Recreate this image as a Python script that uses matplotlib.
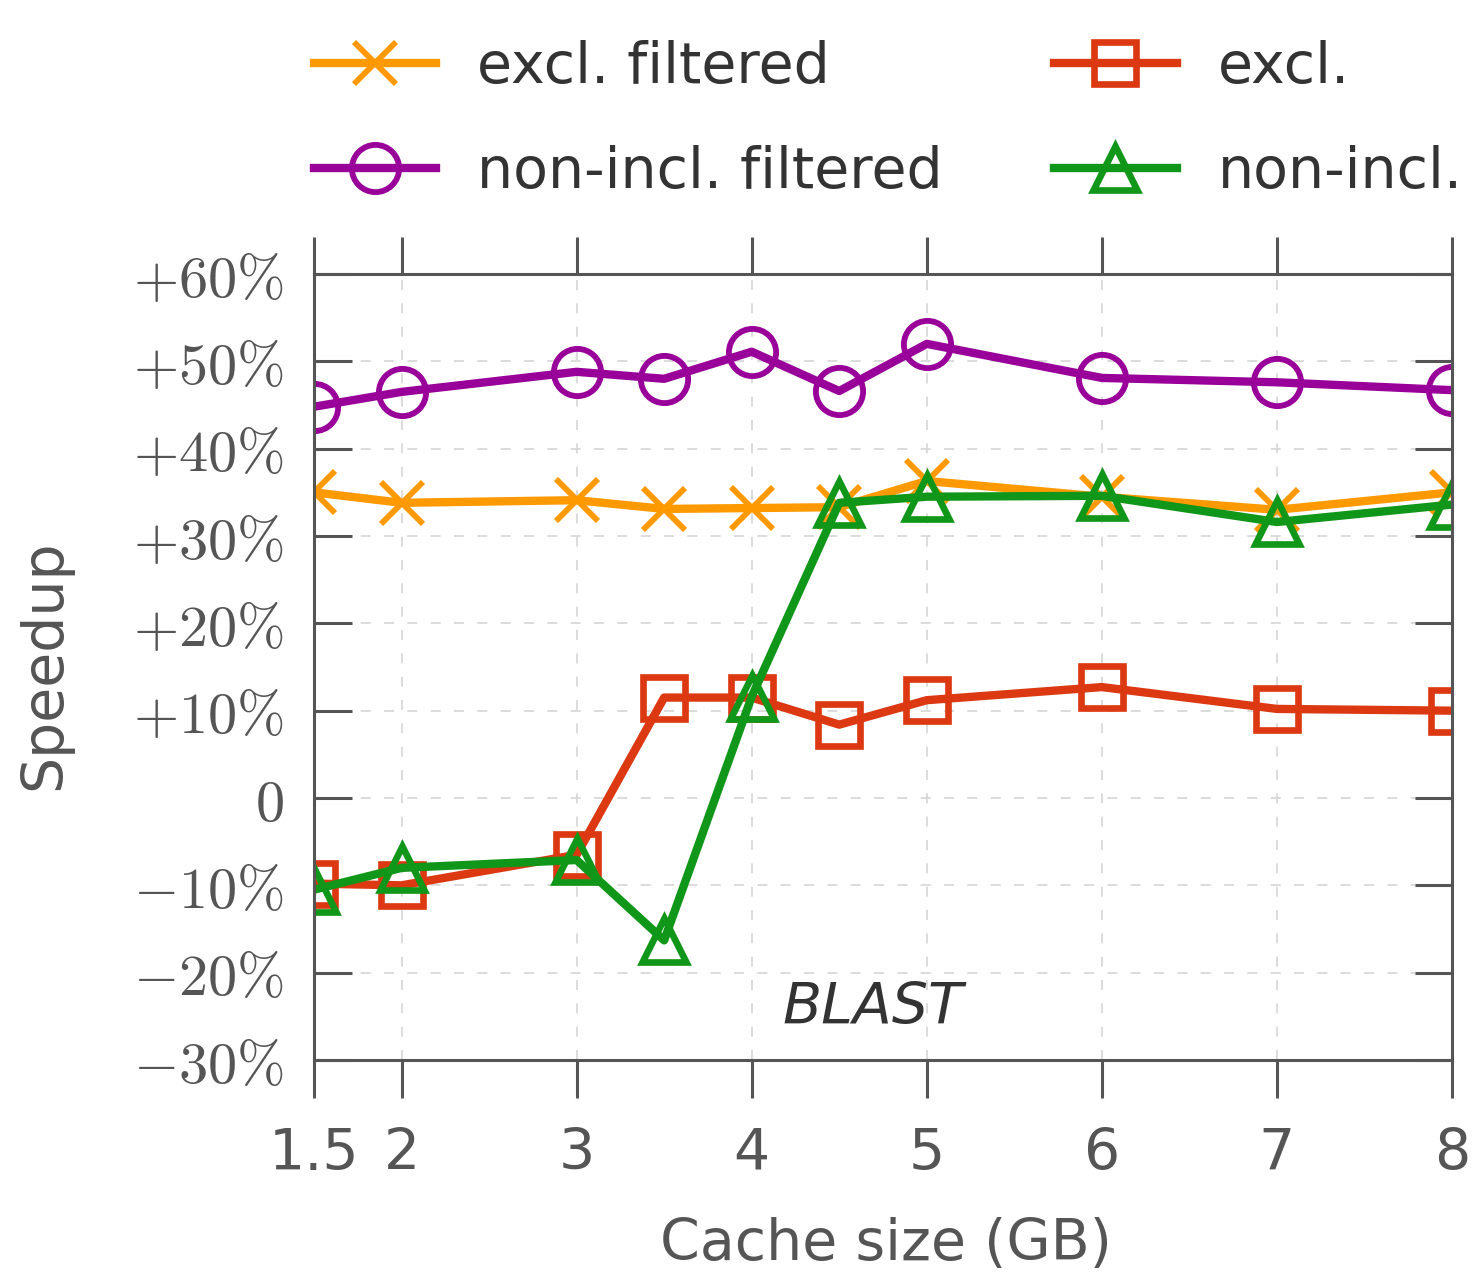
#%% Imports
import matplotlib
matplotlib.use('Agg')
import matplotlib.pyplot as plt

#%% Data
cache_gb = [1.5, 2, 3, 3.5, 4, 4.5, 5, 6, 7, 8]
excl_filtered = [35.0, 33.8, 34.1, 33.1, 33.2, 33.3, 36.3, 34.5, 33.0, 35.0]
nonincl_filtered = [44.8, 46.5, 48.8, 48.0, 51.1, 46.6, 52.0, 48.1, 47.6, 46.7]
excl = [-9.8, -10.0, -6.5, 11.5, 11.5, 8.4, 11.2, 12.7, 10.2, 10.0]
nonincl = [-10.5, -8.0, -7.1, -16.3, 11.6, 33.8, 34.5, 34.6, 31.6, 33.6]

x_ticks = [1.5, 2, 3, 4, 5, 6, 7, 8]
x_tick_labels = ['1.5', '2', '3', '4', '5', '6', '7', '8']
y_ticks = [-30, -20, -10, 0, 10, 20, 30, 40, 50, 60]
y_tick_labels = [r'$-30\%$', r'$-20\%$', r'$-10\%$', r'$0$', r'$+10\%$',
                 r'$+20\%$', r'$+30\%$', r'$+40\%$', r'$+50\%$', r'$+60\%$']

#%% Plot
plt.rcParams['mathtext.fontset'] = 'cm'
axis_color = '#555555'

fig = plt.figure(figsize=(14.73, 12.75), dpi=100)
ax = fig.add_axes([314 / 1473, 1 - 1060 / 1275, 1138 / 1473, 786 / 1275])

lw = 6.0
mew = 4.2
ax.plot(cache_gb, excl_filtered, color='#ff9900', lw=lw, marker='x', ms=30, mew=mew,
        label='excl. filtered')
ax.plot(cache_gb, nonincl_filtered, color='#990099', lw=lw, marker='o', ms=34, mew=mew,
        mfc='none', label='non-incl. filtered')
ax.plot(cache_gb, excl, color='#dc3912', lw=lw, marker='s', ms=30, mew=mew + 0.6,
        mfc='none', label='excl.')
ax.plot(cache_gb, nonincl, color='#109618', lw=lw, marker='^', ms=32, mew=mew + 0.6,
        mfc='none', label='non-incl.')

ax.set_xlim(1.5, 8)
ax.set_ylim(-30, 60)
ax.set_xticks(x_ticks)
ax.set_xticklabels(x_tick_labels, fontsize=41, color=axis_color)
ax.set_yticks(y_ticks)
ax.set_yticklabels(y_tick_labels, fontsize=42, color=axis_color)

ax.tick_params(axis='x', direction='out', length=27, width=2.2, color=axis_color,
               top=True, bottom=True, pad=21)
ax.tick_params(axis='y', direction='in', length=27, width=2.2, color=axis_color,
               left=True, right=True, pad=22)
for spine in ax.spines.values():
    spine.set_color(axis_color)
    spine.set_linewidth(2.2)

ax.grid(True, which='major', axis='both', color='#d5d5d5', linestyle=(0, (6, 8)), lw=1.2)
ax.set_axisbelow(True)

fig.text(873 / 1473, 1 - 1008 / 1275, 'BLAST', ha='center', va='center',
         fontsize=41, style='italic', color='#333333')

fig.text(45 / 1473, 1 - 665 / 1275, 'Speedup', rotation=90, ha='center', va='center',
         fontsize=41, color=axis_color)
fig.text(886 / 1473, 1 - 1244 / 1275, 'Cache size (GB)', ha='center', va='center',
         fontsize=41, color=axis_color)

leg = fig.legend(loc='center left', bbox_to_anchor=(314 / 1473, 1 - 120 / 1275),
                 ncol=2, frameon=False, fontsize=41, handlelength=2.15,
                 handletextpad=0.72, columnspacing=1.95, labelspacing=0.88,
                 borderpad=0, borderaxespad=0)
for text in leg.get_texts():
    text.set_color('#333333')

fig.savefig('out.png', dpi=100)
